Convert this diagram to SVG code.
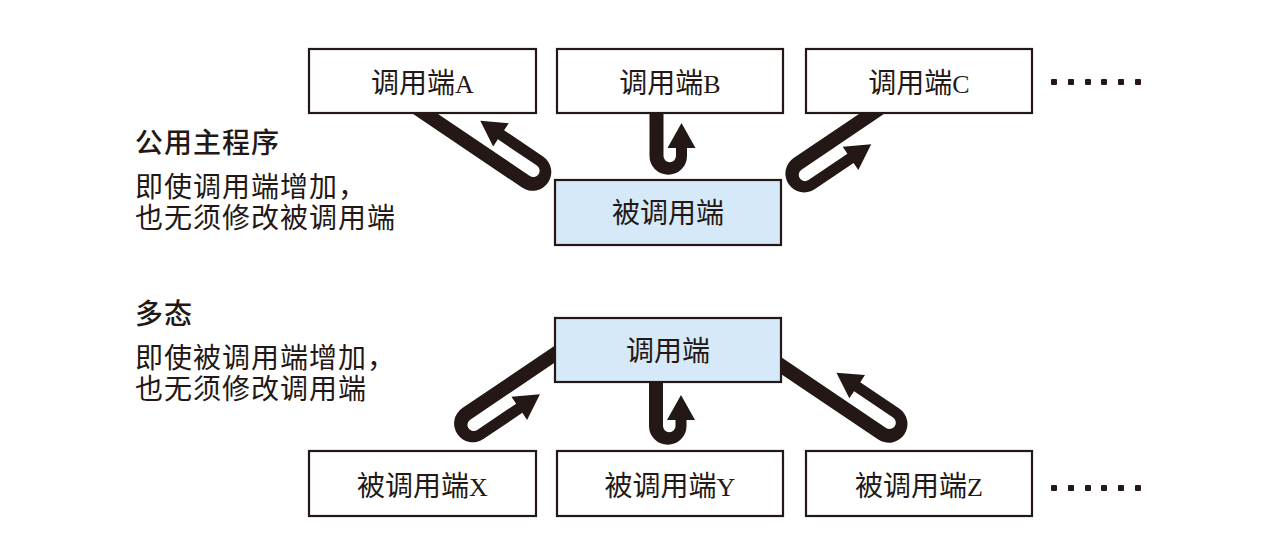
<svg xmlns="http://www.w3.org/2000/svg" width="1278" height="548" viewBox="0 0 1278 548">
<style>
.bg{fill:#ffffff}
.box{fill:#ffffff;stroke:#231815;stroke-width:2.2}
.blue{fill:#d5e9f8;stroke:#231815;stroke-width:2.2}
.t{font-family:"Noto Sans CJK SC","Noto Sans CJK JP",sans-serif;font-size:28px;fill:#231815}
.n{letter-spacing:1px}
.h{font-weight:500}
.lat{font-family:"Liberation Serif",serif;font-size:26px}
.arr{fill:#231815}
.dot{fill:#231815}
</style>
<rect class="bg" x="0" y="0" width="1278" height="548"/>
<g id="connectors">
<path class="arr" transform="translate(424,113) rotate(34)" d="M-20,-7H123A6.25,6.25 0 0 0 123,-19.5H76L76,-11L51,-25L76,-39L76,-30.5H123A18.75,18.75 0 0 1 123,7H-20Z"/>
<path class="arr" transform="translate(656.5,113) rotate(90)" d="M-20,-7H43A6.25,6.25 0 0 0 43,-19.5H35L35,-11L10,-25L35,-39L35,-30.5H43A18.75,18.75 0 0 1 43,7H-20Z"/>
<path class="arr" transform="translate(873,113) rotate(146)" d="M-20,-7H91A6.25,6.25 0 0 0 91,-19.5H44L44,-11L19,-25L44,-39L44,-30.5H91A18.75,18.75 0 0 1 91,7H-20Z"/>
<path class="arr" transform="translate(555,354) rotate(146)" d="M-20,-7H107A6.25,6.25 0 0 0 107,-19.5H60L60,-11L35,-25L60,-39L60,-30.5H107A18.75,18.75 0 0 1 107,7H-20Z"/>
<path class="arr" transform="translate(656,382) rotate(90)" d="M-20,-7H44A6.25,6.25 0 0 0 44,-19.5H38L38,-11L13,-25L38,-39L38,-30.5H44A18.75,18.75 0 0 1 44,7H-20Z"/>
<path class="arr" transform="translate(781,365.5) rotate(34)" d="M-20,-7H122A6.25,6.25 0 0 0 122,-19.5H75L75,-11L50,-25L75,-39L75,-30.5H122A18.75,18.75 0 0 1 122,7H-20Z"/>
</g>
<g id="caller-a"><rect class="box" x="309" y="49" width="227" height="64"/><text class="t" x="422.5" y="93" text-anchor="middle">调用端<tspan class="lat">A</tspan></text></g>
<g id="caller-b"><rect class="box" x="557" y="49" width="226" height="64"/><text class="t" x="670" y="93" text-anchor="middle">调用端<tspan class="lat">B</tspan></text></g>
<g id="caller-c"><rect class="box" x="806" y="49" width="226" height="64"/><text class="t" x="919" y="93" text-anchor="middle">调用端<tspan class="lat">C</tspan></text></g>
<g id="callee"><rect class="blue" x="555" y="180" width="226" height="65"/><text class="t" x="668" y="223" text-anchor="middle">被调用端</text></g>
<g id="caller"><rect class="blue" x="555" y="318" width="226" height="64"/><text class="t" x="668" y="361" text-anchor="middle">调用端</text></g>
<g id="callee-x"><rect class="box" x="309" y="451" width="227" height="65"/><text class="t" x="422.5" y="495.5" text-anchor="middle">被调用端<tspan class="lat">X</tspan></text></g>
<g id="callee-y"><rect class="box" x="557" y="451" width="226" height="65"/><text class="t" x="670" y="495.5" text-anchor="middle">被调用端<tspan class="lat">Y</tspan></text></g>
<g id="callee-z"><rect class="box" x="806" y="451" width="226" height="65"/><text class="t" x="919" y="495.5" text-anchor="middle">被调用端<tspan class="lat">Z</tspan></text></g>
<g id="dots-top">
<rect class="dot" x="1051" y="79" width="6" height="6" rx="1"/><rect class="dot" x="1068" y="79" width="6" height="6" rx="1"/><rect class="dot" x="1085" y="79" width="6" height="6" rx="1"/><rect class="dot" x="1101" y="79" width="6" height="6" rx="1"/><rect class="dot" x="1118" y="79" width="6" height="6" rx="1"/><rect class="dot" x="1135" y="79" width="6" height="6" rx="1"/>
</g>
<g id="dots-bottom">
<rect class="dot" x="1051" y="485" width="6" height="6" rx="1"/><rect class="dot" x="1068" y="485" width="6" height="6" rx="1"/><rect class="dot" x="1085" y="485" width="6" height="6" rx="1"/><rect class="dot" x="1101" y="485" width="6" height="6" rx="1"/><rect class="dot" x="1118" y="485" width="6" height="6" rx="1"/><rect class="dot" x="1135" y="485" width="6" height="6" rx="1"/>
</g>
<g id="note-top">
<text class="t h n" x="135" y="153">公用主程序</text>
<text class="t n" x="135" y="197">即使调用端增加，</text>
<text class="t n" x="135" y="228">也无须修改被调用端</text>
</g>
<g id="note-bottom">
<text class="t h n" x="135" y="324">多态</text>
<text class="t n" x="135" y="368">即使被调用端增加，</text>
<text class="t n" x="135" y="399">也无须修改调用端</text>
</g>
</svg>
